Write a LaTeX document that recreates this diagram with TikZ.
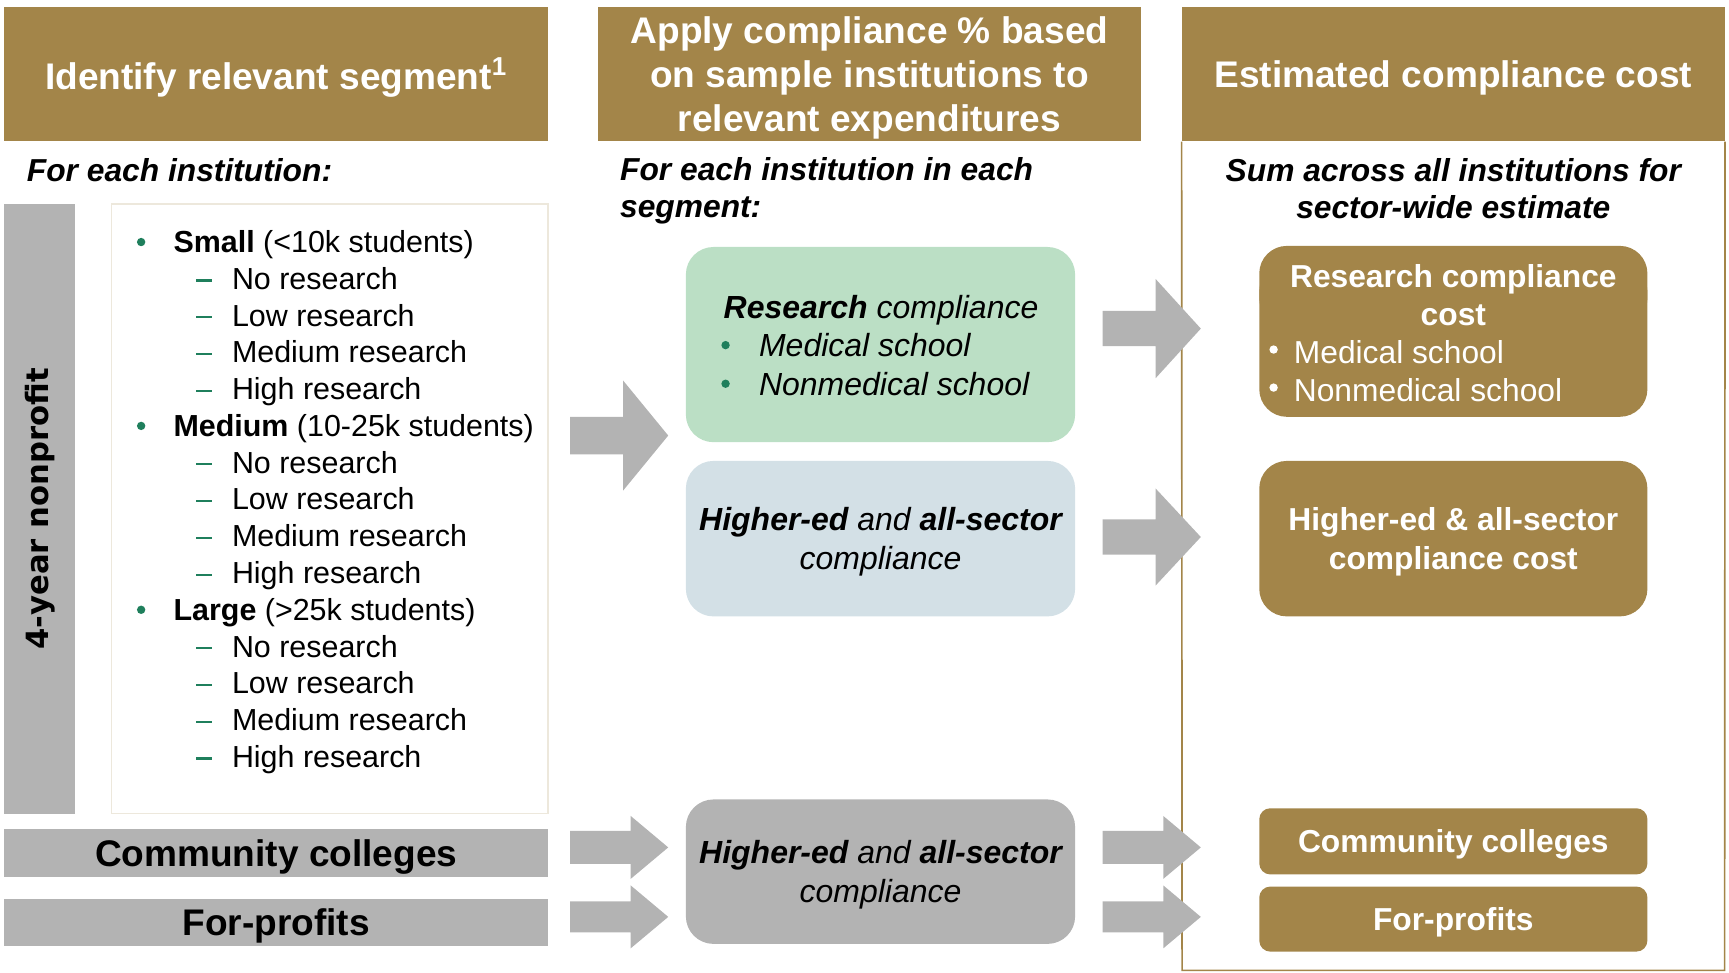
\documentclass[tikz,border=0pt]{standalone}
\usepackage{fontspec}
\setmainfont{Liberation Sans}
\newfontfamily\barfont{DejaVu Sans}
\definecolor{gold}{HTML}{A38549}
\definecolor{segray}{HTML}{B3B3B3}
\definecolor{resgreen}{HTML}{BBDFC5}
\definecolor{edblue}{HTML}{D3E0E6}
\definecolor{dotgreen}{HTML}{1F7F5C}
\definecolor{listedge}{HTML}{EDE8DC}
\begin{document}
\begin{tikzpicture}[x=0.5pt,y=-0.5pt,
  lowtext/.style={text depth=0pt},
  headbox/.style={rectangle, fill=gold, text=white, align=center, inner sep=0pt, minimum width=246.5pt, minimum height=61pt, lowtext, font=\bfseries\fontsize{16.8}{20}\selectfont},
  lead/.style={inner sep=0pt, font=\bfseries\itshape\fontsize{14.4}{17}\selectfont},
  item/.style={anchor=base west, inner sep=0pt, font=\fontsize{13.8}{16.6}\selectfont},
  midbox/.style={rectangle, rounded corners=12.5pt, minimum width=176.5pt, align=center, inner sep=0pt, font=\itshape\fontsize{14.5}{17.5}\selectfont},
  costbox/.style={rectangle, rounded corners=12.5pt, fill=gold, text=white, minimum width=176pt, align=center, inner sep=0pt, font=\bfseries\fontsize{14.4}{17.5}\selectfont},
  segbar/.style={rectangle, fill=segray, minimum width=246.5pt, minimum height=21.5pt, inner sep=0pt, lowtext, font=\bfseries\fontsize{16.8}{20}\selectfont}]
\useasboundingbox (0,0) rectangle (1568,882);
% column headers
\node[headbox] (hdA) at (250.5,67) {Identify relevant segment\textsuperscript{1}};
\node[headbox] (hdB) at (788.5,67) {Apply compliance \% based\\on sample institutions to\\relevant expenditures};
\node[headbox, minimum width=246pt] (hdC) at (1318,67) {Estimated compliance cost};
\coordinate (cbl) at (1072,880);
\coordinate (cbr) at (1564,880);
\draw[gold, line width=0.75pt] (hdC.south west) -- (cbl) -- (cbr) -- (hdC.south east);
\node[lead, anchor=west] (ldA) at (24,154) {For each institution:};
\node[lead, anchor=west, align=left] (ldB) at (562,173) {For each institution in each\\segment:};
\node[lead, align=center] (ldC) at (1318,171) {Sum across all institutions for\\sector-wide estimate};
% segments
\node[rectangle, fill=segray, rotate=90, minimum width=276.5pt, minimum height=32pt, inner sep=0pt, font=\barfont\bfseries\fontsize{13.9}{16}\selectfont] (bar4) at (36,461.5) {4-year nonprofit};
\node[rectangle, draw=listedge, line width=0.6pt, minimum width=198pt, minimum height=276.5pt] (lst) at (299,461.5) {};
\foreach \sz/\rg [count=\k from 0] in {Small/{(<10k students)}, Medium/{(10-25k students)}, Large/{(>25k students)}} {
  \pgfmathsetmacro\yk{219.5+166.75*\k}
  \fill[dotgreen] (128,\yk) circle (3.8);
  \node[item] (sz\k) at (157,\yk+9.5) {\textbf{\sz} \rg};
  \foreach \lv [count=\j] in {No, Low, Medium, High} {
    \pgfmathsetmacro\yj{\yk+33.35*\j}
    \draw[dotgreen, line width=1pt] (178,\yj+1.5) -- (192,\yj+1.5);
    \node[item] (rs\k\j) at (210,\yj+9.5) {\lv{} research};
  }
}
\node[segbar] (ccL) at (250.5,773.5) {Community colleges};
\node[segbar] (fpL) at (250.5,836.5) {For-profits};
% block arrows
\foreach \x/\y/\hl/\hh/\sh in {517/395/41/50/17, 1000/298/41/45/16, 1000/487/41/44/16, 517/768.5/34/28.5/15, 517/831.5/34/28.5/14, 1000/768.5/34/28.5/15, 1000/831.5/34/28.5/14}
  \fill[segray] (\x,\y-\sh) -- (\x+89-\hl,\y-\sh) -- (\x+89-\hl,\y-\hh) -- (\x+89,\y) -- (\x+89-\hl,\y+\hh) -- (\x+89-\hl,\y+\sh) -- (\x,\y+\sh) -- cycle;
% compliance boxes
\node[midbox, fill=resgreen, minimum height=88.5pt] (grn) at (798.5,312.5) {};
\node[midbox] (grnT) at (799,281) {\textbf{Research} compliance};
\foreach \t [count=\i from 0] in {Medical school, Nonmedical school} {
  \fill[dotgreen] (658,313+35*\i) circle (3.8);
  \node[midbox, anchor=base west, minimum width=0pt] (grn\i) at (688,323.5+35*\i) {\t};
}
\node[midbox, lowtext, fill=edblue, minimum height=70.5pt] (blu) at (798.5,488.5) {\textbf{Higher-ed} and \textbf{all-sector}\\compliance};
\node[midbox, lowtext, fill=segray, minimum height=65.5pt] (gry) at (798.5,790.5) {\textbf{Higher-ed} and \textbf{all-sector}\\compliance};
% cost boxes
\node[costbox, minimum height=77.5pt] (rcA) at (1318,300.5) {};
\node[costbox] (rcAT) at (1318,267.5) {Research compliance\\cost};
\foreach \t [count=\i from 0] in {Medical school, Nonmedical school} {
  \fill[white] (1155,317+34.5*\i) circle (3.8);
  \node[costbox, anchor=base west, minimum width=0pt, font=\fontsize{14.4}{17.5}\selectfont] (rcA\i) at (1173,329.5+34.5*\i) {\t};
}
\node[costbox, lowtext, minimum height=70.5pt] (rcB) at (1318,488.5) {Higher-ed \& all-sector\\compliance cost};
\node[costbox, lowtext, rounded corners=5pt, minimum height=30pt] (rcC) at (1318,763) {Community colleges};
\node[costbox, lowtext, rounded corners=5pt, minimum height=29.5pt] (rcD) at (1318,833.5) {For-profits};
\end{tikzpicture}
\end{document}
